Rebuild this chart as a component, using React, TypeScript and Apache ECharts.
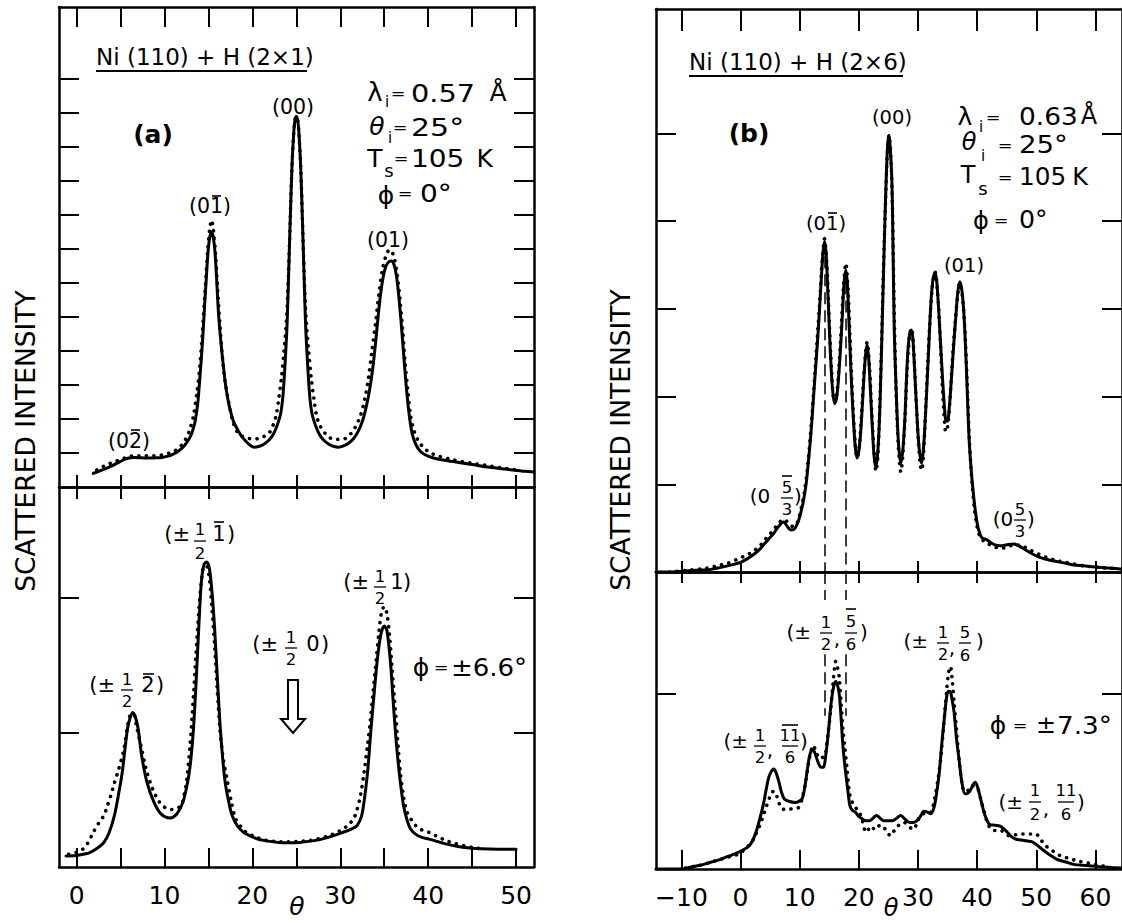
import React, { useEffect, useRef } from "react";
import * as echarts from "echarts";

// ---------- DATA (theta in degrees, intensity in arbitrary units) ----------
// Panel (a) upper: Ni(110)+H(2x1), phi = 0
const aTopSolid = [[1.9,0.40],[2.5,0.46],[3.2,0.53],[4.0,0.62],[4.6,0.70],[5.2,0.78],[5.7,0.84],[6.6,0.87],[7.4,0.86],[8.2,0.85],[9.0,0.86],[9.7,0.87],[10.4,0.91],[11.0,0.97],[11.6,1.06],[12.1,1.17],[12.5,1.30],[12.9,1.46],[13.2,1.65],[13.5,1.95],[13.8,2.5],[14.0,3.12],[14.2,3.8],[14.4,4.58],[14.6,5.5],[14.75,6.1],[14.95,6.9],[15.15,7.35],[15.35,7.5],[15.55,7.35],[15.75,6.9],[15.95,6.05],[16.1,5.3],[16.3,4.6],[16.6,3.8],[16.9,3.1],[17.2,2.6],[17.5,2.24],[17.9,1.9],[18.4,1.65],[18.9,1.45],[19.4,1.31],[19.8,1.22],[20.2,1.17],[20.7,1.19],[21.3,1.26],[21.9,1.38],[22.4,1.56],[22.8,1.8],[23.2,2.14],[23.45,2.6],[23.6,3.12],[23.8,4.0],[23.95,4.8],[24.1,6.05],[24.3,7.8],[24.5,9.4],[24.7,10.4],[24.85,10.8],[25.0,10.9],[25.15,10.8],[25.3,10.4],[25.5,9.4],[25.7,7.8],[25.9,6.05],[26.05,4.8],[26.2,4.0],[26.4,3.12],[26.55,2.6],[26.8,2.14],[27.2,1.8],[27.6,1.56],[28.1,1.38],[28.7,1.26],[29.3,1.19],[29.8,1.17],[30.3,1.2],[30.9,1.28],[31.5,1.42],[32.0,1.62],[32.5,1.92],[32.9,2.3],[33.3,2.8],[33.7,3.5],[34.0,4.2],[34.3,5.0],[34.6,5.7],[34.9,6.2],[35.2,6.5],[35.5,6.62],[35.8,6.65],[36.1,6.55],[36.4,6.2],[36.7,5.5],[37.0,4.6],[37.3,3.6],[37.6,2.7],[37.9,2.0],[38.2,1.55],[38.6,1.25],[39.1,1.05],[39.7,0.94],[40.5,0.86],[41.5,0.80],[43,0.74],[45,0.66],[47,0.58],[49,0.52],[51,0.46],[52.04,0.44]];
const aTopDots = [[2.3,0.50],[3.0,0.60],[3.7,0.68],[4.4,0.75],[5.2,0.82],[5.9,0.90],[6.8,0.92],[7.7,0.92],[8.6,0.92],[9.5,0.93],[10.3,0.98],[10.9,1.03],[11.5,1.12],[12.0,1.25],[12.5,1.45],[12.9,1.7],[13.3,2.1],[13.7,2.8],[14.0,3.5],[14.3,4.5],[14.6,5.7],[14.9,6.9],[15.15,7.6],[15.35,7.85],[15.55,7.6],[15.8,6.9],[16.05,5.8],[16.3,4.8],[16.6,3.8],[16.9,3.1],[17.3,2.5],[17.7,2.0],[18.2,1.65],[18.8,1.5],[19.4,1.44],[20.1,1.41],[20.8,1.43],[21.4,1.5],[22.0,1.62],[22.4,1.85],[22.7,2.1],[23.0,2.6],[23.3,3.2],[23.6,4.0],[23.9,5.0],[24.1,6.2],[24.3,7.8],[24.5,9.4],[24.7,10.4],[24.85,10.8],[25.0,10.9],[25.15,10.8],[25.3,10.4],[25.5,9.4],[25.7,7.8],[25.9,6.2],[26.1,5.0],[26.4,4.0],[26.7,3.2],[27.0,2.6],[27.3,2.1],[27.7,1.8],[28.2,1.6],[28.8,1.45],[29.5,1.4],[30.2,1.4],[30.8,1.46],[31.3,1.6],[31.8,1.8],[32.3,2.1],[32.8,2.6],[33.2,3.2],[33.6,4.0],[34.0,4.8],[34.4,5.7],[34.8,6.4],[35.2,6.8],[35.6,6.98],[36.0,6.85],[36.4,6.4],[36.8,5.5],[37.1,4.6],[37.4,3.6],[37.7,2.8],[38.0,2.1],[38.4,1.65],[38.9,1.35],[39.5,1.15],[40.3,1.0],[41.3,0.9],[42.5,0.82],[44,0.74],[45.5,0.68],[47,0.62],[48.5,0.56],[50,0.51]];

// Panel (a) lower: phi = +-6.6 deg
const aBotSolid = [[-1.2,0.33],[0.0,0.34],[0.8,0.38],[1.5,0.43],[2.3,0.55],[3.1,0.73],[3.7,1.02],[4.3,1.53],[4.8,2.2],[5.2,2.83],[5.5,3.5],[5.8,4.12],[6.1,4.45],[6.4,4.6],[6.7,4.45],[7.0,4.12],[7.4,3.32],[8.0,2.53],[8.8,1.93],[9.6,1.58],[10.6,1.46],[11.4,1.58],[12.1,1.93],[12.7,2.62],[13.0,3.2],[13.3,4.12],[13.6,5.5],[13.9,7.12],[14.2,8.5],[14.5,9.0],[14.8,9.08],[15.1,8.9],[15.4,8.2],[15.7,7.12],[16.0,5.7],[16.3,4.32],[16.6,3.3],[16.9,2.53],[17.3,1.95],[17.7,1.53],[18.3,1.22],[19.0,1.03],[19.8,0.92],[20.6,0.83],[21.8,0.77],[23.0,0.73],[24.2,0.72],[25.4,0.73],[26.6,0.77],[27.9,0.83],[29.1,0.92],[30.3,1.03],[31.2,1.12],[31.9,1.23],[32.4,1.5],[32.7,1.93],[33.1,2.8],[33.5,4.12],[33.9,5.3],[34.2,6.13],[34.6,6.9],[35.0,7.17],[35.3,7.05],[35.7,6.13],[36.0,5.0],[36.4,3.63],[36.8,2.6],[37.2,1.82],[37.6,1.4],[38.0,1.13],[38.6,0.97],[39.3,0.88],[40.1,0.83],[42.1,0.68],[44.1,0.58],[46.1,0.54],[48,0.53],[50,0.53]];
const aBotDots = [[-0.9,0.38],[0.0,0.44],[0.7,0.53],[1.3,0.72],[1.9,1.03],[2.5,1.3],[3.1,1.53],[3.5,1.82],[3.9,2.13],[4.3,2.5],[4.7,2.83],[5.1,3.2],[5.4,3.52],[5.8,4.2],[6.2,4.55],[6.5,4.55],[6.8,4.22],[7.1,3.85],[7.4,3.52],[7.7,3.15],[8.0,2.83],[8.4,2.5],[8.8,2.23],[9.3,1.98],[9.8,1.82],[10.3,1.74],[10.8,1.71],[11.3,1.74],[11.9,1.82],[12.2,2.1],[12.5,2.53],[12.9,3.6],[13.3,5.12],[13.6,6.4],[13.9,7.62],[14.2,8.5],[14.5,8.95],[14.8,8.95],[15.1,8.6],[15.4,7.7],[15.7,6.6],[16.0,5.3],[16.3,4.12],[16.7,3.2],[17.1,2.63],[17.6,1.95],[18.1,1.43],[18.7,1.2],[19.3,1.03],[20.3,0.9],[21.4,0.8],[22.6,0.76],[23.8,0.75],[25.0,0.76],[26.3,0.78],[27.5,0.84],[28.7,0.93],[29.5,1.02],[30.3,1.13],[30.9,1.25],[31.5,1.43],[31.9,1.7],[32.3,2.13],[32.7,2.8],[33.1,3.63],[33.4,4.3],[33.7,5.12],[34.1,6.2],[34.4,7.0],[34.7,7.6],[35.0,7.75],[35.3,7.55],[35.6,6.9],[35.9,5.9],[36.2,4.9],[36.5,3.9],[36.8,2.9],[37.2,2.1],[37.6,1.63],[38.1,1.4],[38.6,1.23],[39.3,1.1],[40.1,1.03],[41.1,0.9],[42.1,0.78],[43.1,0.7],[44.1,0.63],[45.1,0.58],[46.1,0.54]];

// Panel (b) upper: Ni(110)+H(2x6), phi = 0
const bTopSolid = [[-14.3,0.0],[-12,0.0],[-10,0.01],[-7.5,0.02],[-5,0.03],[-3.5,0.05],[-2.2,0.07],[-1,0.09],[0,0.11],[1.1,0.15],[2.2,0.2],[3.1,0.25],[3.9,0.31],[4.8,0.38],[5.6,0.44],[6.2,0.5],[6.8,0.55],[7.2,0.57],[7.6,0.55],[8.1,0.5],[8.6,0.48],[9.1,0.49],[9.6,0.55],[10.0,0.63],[10.6,0.8],[11.1,1.01],[11.5,1.28],[11.9,1.58],[12.2,1.86],[12.5,2.15],[12.8,2.43],[13.1,2.72],[13.4,3.05],[13.7,3.4],[13.95,3.65],[14.2,3.77],[14.45,3.65],[14.7,3.29],[15.0,2.8],[15.3,2.34],[15.6,2.05],[15.9,1.92],[16.2,1.97],[16.5,2.15],[16.9,2.55],[17.2,2.91],[17.5,3.3],[17.8,3.44],[18.05,3.3],[18.3,2.91],[18.6,2.4],[18.9,1.96],[19.2,1.6],[19.45,1.39],[19.7,1.3],[20.0,1.38],[20.3,1.58],[20.55,1.85],[20.8,2.15],[21.1,2.45],[21.4,2.59],[21.65,2.45],[21.9,2.15],[22.2,1.75],[22.5,1.39],[22.7,1.25],[22.9,1.2],[23.15,1.32],[23.4,1.6],[23.6,1.96],[23.9,2.7],[24.2,3.48],[24.45,4.1],[24.7,4.62],[24.9,4.9],[25.1,4.98],[25.3,4.85],[25.6,4.43],[25.8,3.6],[26.0,2.72],[26.3,2.1],[26.6,1.58],[26.85,1.35],[27.1,1.24],[27.45,1.4],[27.8,1.77],[28.05,2.2],[28.3,2.53],[28.6,2.72],[28.9,2.76],[29.15,2.65],[29.4,2.34],[29.7,1.95],[30.0,1.58],[30.3,1.35],[30.6,1.24],[30.85,1.35],[31.1,1.58],[31.5,2.1],[31.8,2.53],[32.05,2.9],[32.3,3.18],[32.6,3.36],[32.9,3.41],[33.15,3.33],[33.4,3.1],[33.7,2.75],[34.1,2.27],[34.4,1.95],[34.7,1.73],[35.0,1.72],[35.3,1.88],[35.6,2.15],[36.0,2.55],[36.4,2.91],[36.75,3.2],[37.1,3.31],[37.45,3.2],[37.8,2.91],[38.2,2.3],[38.6,1.58],[38.9,1.25],[39.2,1.01],[39.6,0.75],[40.0,0.56],[40.4,0.45],[40.8,0.39],[41.6,0.37],[42.2,0.34],[43.0,0.31],[43.9,0.3],[45.0,0.31],[46.2,0.32],[47.5,0.28],[49.0,0.22],[50.5,0.17],[52,0.14],[53.4,0.12],[55,0.1],[56.4,0.08],[58,0.07],[59.4,0.06],[61,0.05],[63.4,0.04],[64.5,0.03]];
const bTopDots = [[-12,0.0],[-9,0.02],[-6,0.04],[-4,0.07],[-2.2,0.1],[-0.7,0.14],[0.6,0.18],[1.8,0.22],[2.8,0.27],[3.7,0.33],[4.5,0.4],[5.2,0.45],[5.8,0.5],[6.5,0.56],[7.2,0.6],[7.8,0.58],[8.3,0.54],[8.8,0.52],[9.3,0.53],[9.8,0.6],[10.3,0.74],[10.8,0.92],[11.3,1.18],[11.8,1.55],[12.2,1.9],[12.6,2.3],[13.0,2.7],[13.4,3.1],[13.8,3.55],[14.2,3.8],[14.6,3.5],[15.0,2.85],[15.4,2.3],[15.8,1.98],[16.2,2.0],[16.6,2.3],[17.0,2.75],[17.4,3.25],[17.8,3.52],[18.2,3.2],[18.6,2.5],[19.0,1.9],[19.4,1.45],[19.7,1.3],[20.1,1.45],[20.5,1.85],[20.9,2.3],[21.4,2.62],[21.8,2.35],[22.2,1.8],[22.6,1.35],[22.9,1.15],[23.2,1.3],[23.5,1.8],[23.8,2.5],[24.1,3.3],[24.5,4.2],[24.8,4.75],[25.1,4.98],[25.4,4.75],[25.7,4.1],[25.95,3.1],[26.2,2.3],[26.5,1.7],[26.8,1.3],[27.1,1.14],[27.4,1.3],[27.8,1.75],[28.2,2.35],[28.6,2.7],[28.9,2.78],[29.3,2.5],[29.7,1.95],[30.1,1.45],[30.4,1.22],[30.6,1.16],[30.9,1.3],[31.3,1.85],[31.7,2.45],[32.1,2.95],[32.5,3.3],[32.9,3.42],[33.3,3.2],[33.7,2.75],[34.1,2.15],[34.4,1.8],[34.7,1.6],[35.0,1.65],[35.4,1.95],[35.8,2.4],[36.3,2.85],[36.7,3.15],[37.1,3.3],[37.5,3.15],[37.9,2.8],[38.3,2.2],[38.7,1.5],[39.1,1.05],[39.5,0.75],[39.9,0.55],[40.4,0.42],[41.0,0.36],[41.9,0.32],[42.8,0.29],[43.9,0.27],[45.0,0.28],[46.2,0.31],[47.5,0.3],[49.0,0.25],[50.5,0.2],[52,0.16],[53.4,0.13],[55,0.11],[56.4,0.09],[58,0.07],[59.4,0.06],[61,0.05],[63,0.04]];

// Panel (b) lower: phi = +-7.3 deg
const bBotSolid = [[-14.3,0.0],[-10,0.0],[-8,0.03],[-6.35,0.05],[-4.9,0.08],[-3.4,0.11],[-1.9,0.15],[-0.4,0.19],[0.5,0.22],[1.4,0.26],[2.0,0.32],[2.6,0.42],[3.2,0.56],[3.8,0.72],[4.2,0.86],[4.7,1.03],[5.1,1.1],[5.6,1.14],[6.0,1.1],[6.5,0.99],[6.9,0.88],[7.4,0.8],[8.3,0.77],[9.2,0.76],[9.8,0.77],[10.4,0.8],[10.9,0.95],[11.3,1.14],[11.7,1.3],[12.2,1.37],[12.6,1.32],[13.1,1.22],[13.6,1.16],[14.0,1.16],[14.5,1.35],[14.9,1.6],[15.2,1.82],[15.5,1.99],[15.8,2.1],[16.1,2.14],[16.4,2.1],[16.7,1.99],[17.0,1.72],[17.3,1.41],[17.6,1.2],[17.9,1.03],[18.2,0.86],[18.5,0.72],[18.9,0.67],[19.4,0.65],[20.0,0.6],[20.6,0.57],[21.2,0.55],[21.8,0.55],[22.4,0.58],[23.0,0.61],[23.6,0.58],[24.2,0.55],[25.0,0.55],[25.7,0.55],[26.4,0.58],[27.1,0.61],[27.8,0.57],[28.6,0.53],[29.2,0.53],[29.8,0.55],[30.4,0.6],[31.0,0.66],[31.6,0.65],[32.2,0.63],[32.7,0.7],[33.1,0.84],[33.6,1.1],[34.0,1.41],[34.5,1.75],[34.9,1.99],[35.2,2.03],[35.5,2.02],[35.8,1.92],[36.1,1.79],[36.5,1.5],[37.0,1.22],[37.4,1.0],[37.9,0.86],[38.3,0.86],[38.8,0.89],[39.3,0.96],[39.7,0.99],[40.1,0.93],[40.6,0.8],[41.3,0.62],[42.1,0.51],[43.0,0.5],[43.9,0.49],[44.5,0.46],[45.1,0.42],[45.8,0.37],[46.6,0.34],[47.5,0.33],[48.5,0.32],[49.3,0.31],[50.2,0.27],[51.1,0.22],[52.3,0.16],[53.5,0.11],[55,0.08],[56.5,0.05],[58.5,0.04],[60.1,0.03],[62,0.02],[64.5,0.01]];
const bBotDots = [[-9.3,0.01],[-7.8,0.03],[-6.35,0.05],[-4.9,0.08],[-3.4,0.11],[-1.9,0.14],[-0.4,0.17],[0.8,0.23],[2.0,0.32],[2.6,0.4],[3.2,0.49],[3.8,0.6],[4.4,0.72],[5.0,0.83],[5.6,0.89],[6.2,0.82],[6.8,0.7],[7.4,0.68],[8.0,0.68],[8.9,0.69],[9.8,0.7],[10.4,0.8],[11.0,0.99],[11.6,1.25],[12.3,1.41],[12.8,1.33],[13.4,1.26],[14.0,1.28],[14.3,1.3],[14.8,1.55],[15.2,1.79],[15.6,2.1],[15.9,2.3],[16.1,2.37],[16.4,2.3],[16.7,2.18],[17.0,1.9],[17.3,1.6],[17.6,1.41],[18.0,1.15],[18.5,0.84],[19.2,0.72],[20.0,0.66],[20.6,0.55],[21.2,0.42],[21.6,0.45],[22.1,0.49],[22.7,0.45],[23.3,0.49],[23.9,0.5],[24.5,0.45],[25.0,0.4],[25.4,0.38],[26.0,0.44],[26.6,0.49],[27.1,0.52],[27.7,0.53],[28.4,0.49],[29.2,0.45],[29.8,0.52],[30.4,0.61],[31.3,0.64],[32.2,0.65],[32.8,0.8],[33.4,1.03],[33.9,1.3],[34.3,1.6],[34.8,2.0],[35.2,2.25],[35.5,2.31],[35.8,2.15],[36.1,1.91],[36.5,1.6],[37.0,1.22],[37.4,1.0],[37.9,0.88],[38.5,0.9],[39.1,0.95],[40.0,0.93],[40.6,0.8],[41.2,0.65],[41.8,0.52],[42.4,0.45],[43.1,0.44],[43.9,0.44],[44.6,0.42],[45.4,0.38],[46.4,0.39],[47.5,0.4],[48.7,0.4],[49.9,0.4],[50.8,0.33],[51.7,0.26],[52.9,0.2],[54.1,0.15],[55.6,0.12],[57.1,0.09],[58.6,0.07],[60.1,0.05],[61.6,0.03],[63.0,0.01]];

// Axis ranges and ticks
const aThetaRange = [-2, 52.04];
const bThetaRange = [-14.3, 64.5];
const aThetaTicks = [0, 5, 10, 15, 20, 25, 30, 35, 40, 45, 50];
const aThetaLabels = [0, 10, 20, 30, 40, 50];
const bThetaTicks = [-10, 0, 10, 20, 30, 40, 50, 60];
const bThetaLabels = [-10, 0, 10, 20, 30, 40, 50, 60];
const yMax = [14.12, 11.31, 6.42, 3.39];
const yTicks = [[1,2,3,4,5,6,7,8,9,10,11,12], [4, 8], [1,2,3,4,5], [2]];
const dashedTheta = [14.2, 17.8];

// ---------- LAYOUT ----------
const FONT = "DejaVu Sans";
const FR = 16.5; // fraction digit size
const EQ = 16; // size of "=" signs
const grids = [
  { left: 59, top: 7, width: 475, height: 480 },
  { left: 59, top: 487, width: 475, height: 380 },
  { left: 656, top: 9, width: 473, height: 563 },
  { left: 656, top: 572, width: 473, height: 297 },
];

function txt(x: number, y: number, text: string, size = 22, o: any = {}) {
  return {
    type: "text", x, y, silent: true, rotation: o.rot || 0, scaleX: o.sx || 1, z: 50,
    style: {
      text, fill: "#000", fontSize: size, fontFamily: o.family || FONT,
      fontWeight: o.weight || "normal", fontStyle: o.italic ? "italic" : "normal",
      align: o.align || "center", verticalAlign: "middle", lineHeight: size,
    },
  };
}
function ln(x1: number, y1: number, x2: number, y2: number, w = 1.6) {
  return { type: "line", silent: true, z: 50, shape: { x1, y1, x2, y2 }, style: { stroke: "#000", lineWidth: w } };
}

const L = { align: "left" };
const graphics: any[] = [
  // Panel (a)
  txt(25, 441, "SCATTERED INTENSITY", 26.5, { rot: Math.PI / 2 }),
  txt(96, 57, "Ni (110) + H (2×1)", 23, L),
  ln(96, 71, 307, 71, 2),
  txt(153, 134, "(a)", 25, { weight: "bold" }),
  txt(293, 107, "(00)", 20.5),
  txt(375, 92, "λ", 26), txt(387, 102, "i", 15), txt(398, 93, "=", EQ, { sx: 1.1 }),
  txt(411, 93, "0.57", 25, { align: "left", sx: 1.15 }), txt(498, 92, "Å", 25),
  txt(377, 126, "θ", 25, { italic: true }), txt(390, 138, "i", 15), txt(400, 127, "=", EQ, { sx: 1.1 }),
  txt(411, 127, "25°", 25, { align: "left", sx: 1.2 }),
  txt(375, 158, "T", 25), txt(389, 170, "s", 18), txt(401, 158, "=", EQ, { sx: 1.1 }),
  txt(411, 158, "105", 25, { align: "left", sx: 1.12 }), txt(493, 158, "K", 25, { align: "right" }),
  txt(386, 195, "ϕ", 25), txt(405, 193, "=", EQ, { sx: 1.1 }), txt(420, 193, "0°", 25, { align: "left", sx: 1.12 }),
  txt(210, 206, "(01)", 20.5), ln(212, 196, 221, 196),
  txt(388, 240, "(01)", 20.5),
  txt(129, 441, "(02)", 20.5), ln(131, 430, 140, 430),
  // (a) lower
  txt(190, 534, "(±", 21, { align: "right" }), txt(200, 529, "1", FR), ln(194, 541, 206, 541, 1.3),
  txt(200, 553, "2", FR), txt(219, 534, "1", 21), ln(214, 522, 224, 522), txt(227, 534, ")", 21, L),
  txt(369, 582, "(±", 21, { align: "right" }), txt(380, 576, "1", FR), ln(374, 587, 386, 587, 1.3),
  txt(380, 598, "2", FR), txt(397, 582, "1", 21), txt(403, 582, ")", 21, L),
  txt(115, 685, "(±", 21, { align: "right" }), txt(127, 679, "1", FR), ln(121, 690, 133, 690, 1.3),
  txt(127, 701, "2", FR), txt(148, 685, "2", 21), ln(143, 674, 154, 674), txt(156, 685, ")", 21, L),
  txt(278, 644, "(±", 21, { align: "right" }), txt(291, 637, "1", FR), ln(285, 648, 297, 648, 1.3),
  txt(291, 659, "2", FR), txt(313, 644, "0", 21), txt(321, 644, ")", 21, L),
  {
    type: "polygon", silent: true, z: 50,
    shape: { points: [[288, 680], [298, 680], [298, 719], [305, 719], [293, 733], [281, 719], [288, 719]] },
    style: { fill: "#fff", stroke: "#000", lineWidth: 2 },
  },
  txt(421, 667, "ϕ", 25), txt(441, 667, "=", EQ, { sx: 1.1 }), txt(451, 667, "±6.6°", 25, { align: "left", sx: 1.04 }),
  txt(297, 906, "θ", 25, { italic: true }),
  // Panel (b)
  txt(620, 440, "SCATTERED INTENSITY", 26.5, { rot: Math.PI / 2 }),
  txt(689, 62, "Ni (110) + H (2×6)", 23, L),
  ln(689, 76, 903, 76, 2),
  txt(749, 133, "(b)", 25, { weight: "bold" }),
  txt(892, 117, "(00)", 19.5),
  txt(965, 116, "λ", 25), txt(981, 127, "i", 15), txt(993, 117, "=", EQ, { sx: 1.1 }),
  txt(1019, 117, "0.63", 24, { align: "left", sx: 1.1 }), txt(1089, 116, "Å", 24),
  txt(969, 142, "θ", 24, { italic: true }), txt(983, 156, "i", 15), txt(1005, 145, "=", EQ, { sx: 1.1 }),
  txt(1019, 145, "25°", 24, { align: "left", sx: 1.15 }),
  txt(968, 175, "T", 24), txt(983, 188, "s", 18), txt(1005, 177, "=", EQ, { sx: 1.1 }),
  txt(1019, 177, "105", 24, { align: "left", sx: 1.03 }), txt(1088, 177, "K", 24, { align: "right" }),
  txt(981, 221, "ϕ", 24), txt(1001, 220, "=", EQ, { sx: 1.1 }), txt(1019, 220, "0°", 24, { align: "left", sx: 1.05 }),
  txt(826, 223, "(01)", 19.5), ln(828, 213, 837, 213),
  txt(964, 265, "(01)", 19.5),
  txt(760, 496, "(0", 20), txt(787, 487, "5", FR), ln(782, 476, 792, 476), ln(781, 498, 793, 498, 1.3),
  txt(787, 509, "3", FR), txt(794, 496, ")", 20, L),
  txt(1003, 519, "(0", 20), txt(1020, 509, "5", FR), ln(1014, 520, 1026, 520, 1.3),
  txt(1020, 531, "3", FR), txt(1027, 519, ")", 20, L),
  // (b) lower
  txt(811, 632, "(±", 20, { align: "right" }), txt(826, 622, "1", FR), ln(820, 633, 832, 633, 1.3),
  txt(826, 644, "2", FR), txt(837, 639, ",", 20), txt(851, 621, "5", FR), ln(846, 609, 856, 609),
  ln(845, 633, 857, 633, 1.3), txt(851, 644, "6", FR), txt(860, 632, ")", 20, L),
  txt(928, 641, "(±", 20, { align: "right" }), txt(943, 632, "1", FR), ln(937, 643, 949, 643, 1.3),
  txt(943, 654, "2", FR), txt(952, 648, ",", 20), txt(965, 632, "5", FR), ln(959, 643, 971, 643, 1.3),
  txt(965, 655, "6", FR), txt(976, 641, ")", 20, L),
  txt(748, 741, "(±", 20, { align: "right" }), txt(760, 735, "1", FR), ln(754, 746, 766, 746, 1.3),
  txt(760, 757, "2", FR), txt(770, 750, ",", 20), txt(790, 735, "11", FR), ln(782, 725, 798, 725),
  ln(782, 746, 798, 746, 1.3), txt(790, 757, "6", FR), txt(800, 741, ")", 20, L),
  txt(1023, 802, "(±", 20, { align: "right" }), txt(1035, 790, "1", FR), ln(1029, 802, 1041, 802, 1.3),
  txt(1035, 814, "2", FR), txt(1046, 809, ",", 20), txt(1066, 790, "11", FR), ln(1058, 802, 1074, 802, 1.3),
  txt(1066, 814, "6", FR), txt(1077, 802, ")", 20, L),
  txt(998, 725, "ϕ", 25), txt(1020, 725, "=", EQ, { sx: 1.1 }), txt(1046, 725, "±", 24), txt(1057, 725, "7.3°", 25, { align: "left", sx: 1.05 }),
  txt(891, 908, "θ", 24, { italic: true }),
];

function xAxis(gi: number, pos: string, range: number[], ticks: number[], labels: number[] | null, tickLen: number) {
  return {
    type: "value", gridIndex: gi, position: pos, min: range[0], max: range[1],
    axisLine: { show: true, onZero: false, lineStyle: { color: "#000", width: 2.5 } },
    axisTick: { show: true, inside: true, length: tickLen, customValues: ticks, lineStyle: { color: "#000", width: 2 } },
    axisLabel: labels
      ? {
          show: true, customValues: labels, margin: 16, fontSize: 25, fontFamily: FONT, color: "#000",
          formatter: (v: number) => (v < 0 ? "\u2212" + Math.abs(v) : String(v)),
        }
      : { show: false },
    splitLine: { show: false },
    axisPointer: { show: false },
  };
}
function yAxis(gi: number, pos: string, max: number, ticks: number[]) {
  return {
    type: "value", gridIndex: gi, position: pos, min: 0, max,
    axisLine: { show: true, onZero: false, lineStyle: { color: "#000", width: 2.5 } },
    axisTick: { show: true, inside: true, length: 20, customValues: ticks, lineStyle: { color: "#000", width: 2 } },
    axisLabel: { show: false },
    splitLine: { show: false },
  };
}

function line(data: number[][], gi: number, dotted: boolean, markLine?: any) {
  return {
    type: "line", data, xAxisIndex: gi * 2, yAxisIndex: gi * 2, showSymbol: false, symbol: "none",
    smooth: 0.3, silent: true, z: dotted ? 2 : 3, clip: true,
    lineStyle: dotted
      ? { color: "#000", width: 3.6, type: [0.1, 7.4], cap: "round" }
      : { color: "#000", width: 3, cap: "round", join: "round" },
    markLine,
  };
}

function dashed(segments: number[][]) {
  return {
    silent: true, symbol: ["none", "none"], label: { show: false }, animation: false,
    lineStyle: { color: "#000", width: 1.5, type: [12, 6] },
    data: segments.map((s) => [{ coord: [s[0], s[1]] }, { coord: [s[0], s[2]] }]),
  };
}

export default function App() {
  const ref = useRef<HTMLDivElement>(null);
  useEffect(() => {
    if (!ref.current) return;
    const chart = echarts.init(ref.current, undefined, { renderer: "svg" });
    const option: any = {
      animation: false,
      backgroundColor: "#fff",
      grid: grids.map((g) => ({ ...g, containLabel: false })),
      xAxis: [
        xAxis(0, "bottom", aThetaRange, aThetaTicks, null, 12),
        xAxis(0, "top", aThetaRange, aThetaTicks, null, 20),
        xAxis(1, "bottom", aThetaRange, aThetaTicks, aThetaLabels, 19),
        xAxis(1, "top", aThetaRange, aThetaTicks, null, 12),
        xAxis(2, "bottom", bThetaRange, bThetaTicks, null, 11),
        xAxis(2, "top", bThetaRange, bThetaTicks, null, 22),
        xAxis(3, "bottom", bThetaRange, bThetaTicks, bThetaLabels, 19),
        xAxis(3, "top", bThetaRange, bThetaTicks, null, 11),
      ],
      yAxis: [
        yAxis(0, "left", yMax[0], yTicks[0]), yAxis(0, "right", yMax[0], yTicks[0]),
        yAxis(1, "left", yMax[1], yTicks[1]), yAxis(1, "right", yMax[1], yTicks[1]),
        yAxis(2, "left", yMax[2], yTicks[2]), yAxis(2, "right", yMax[2], yTicks[2]),
        yAxis(3, "left", yMax[3], yTicks[3]), yAxis(3, "right", yMax[3], yTicks[3]),
      ],
      series: [
        line(aTopDots, 0, true), line(aTopSolid, 0, false),
        line(aBotDots, 1, true), line(aBotSolid, 1, false),
        line(bTopDots, 2, true),
        line(bTopSolid, 2, false, dashed([[dashedTheta[0], 3.6, 0], [dashedTheta[1], 3.3, 0]])),
        line(bBotDots, 3, true),
        line(bBotSolid, 3, false, dashed([
          [dashedTheta[0], 3.39, 3.07], [dashedTheta[0], 2.45, 1.75],
          [dashedTheta[1], 3.39, 3.07], [dashedTheta[1], 2.45, 1.75],
        ])),
      ],
      graphic: { elements: graphics },
    };
    chart.setOption(option);
    return () => chart.dispose();
  }, []);
  return (
    <div
      ref={ref}
      style={{ position: "absolute", left: 0, top: 0, width: 1122, height: 923, background: "#fff" }}
    />
  );
}
